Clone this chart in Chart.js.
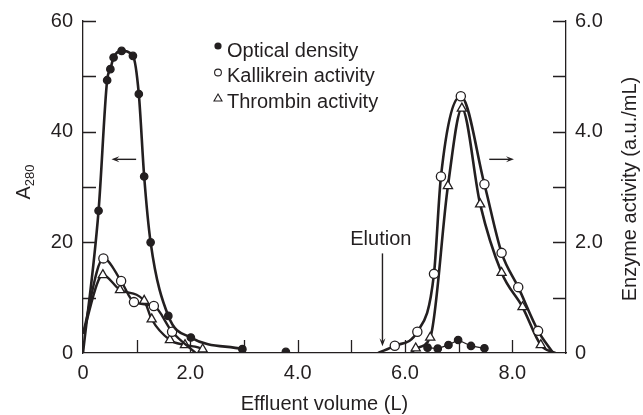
<!DOCTYPE html>
<html lang="en">
<head>
<meta charset="UTF-8">
<title>Kallikrein / thrombin elution profile</title>
<script src="https://cdn.jsdelivr.net/npm/chart.js"></script>
<style>
  body { margin: 0; background: #fff; }
  #chart { display: block; }
</style>
</head>
<body>
<canvas id="chart" width="643" height="415"></canvas>
<script>
// Optical density, A280 (left axis). First peak is a smooth curve
const odPeakVolume = [0, 0.29, 0.45, 0.51, 0.57, 0.72, 0.93, 1.04, 1.14, 1.26, 1.59, 2.01, 2.97];
const odPeakValue  = [0, 25.7, 49.3, 51.3, 53.4, 54.6, 53.7, 46.8, 31.9, 20.0, 6.7, 2.8, 0.7];
// single reading between the two peaks
const odLoneVolume = [3.78];
const odLoneValue  = [0.2];
// small readings under the eluted peak
const odElutedVolume = [6.42, 6.61, 6.81, 6.99, 7.23, 7.48];
const odElutedValue  = [0.96, 0.78, 1.45, 2.35, 1.27, 0.85];

// Kallikrein activity, a.u./mL (right axis)
const kalWashVolume = [0, 0.38, 0.71, 0.95, 1.32, 1.66, 2.1];
const kalWashValue  = [0.35, 1.71, 1.30, 0.92, 0.85, 0.385, 0];
const kalElutionVolume = [5.5, 5.81, 6.23, 6.54, 6.67, 7.04, 7.48, 7.80, 8.11, 8.48, 8.76];
const kalElutionValue  = [0, 0.13, 0.385, 1.43, 3.19, 4.64, 3.05, 1.81, 1.19, 0.40, 0];

// Thrombin activity, a.u./mL (right axis)
const thrWashVolume = [0, 0.37, 0.69, 1.14, 1.28, 1.62, 1.90, 2.23, 2.3];
const thrWashValue  = [0.35, 1.41, 1.14, 0.945, 0.61, 0.235, 0.145, 0.067, 0];
const thrElutionVolume = [6.12, 6.20, 6.47, 6.80, 7.06, 7.40, 7.80, 8.19, 8.53, 8.80];
const thrElutionValue  = [0, 0.085, 0.28, 3.02, 4.42, 2.69, 1.45, 0.83, 0.145, 0];

// tick labels
const xLabelValues = [0, 2, 4, 6, 8];
const xLabelTexts  = ['0', '2.0', '4.0', '6.0', '8.0'];
const yLabelValues = [0, 20, 40, 60];
const yLabelTexts  = ['0', '20', '40', '60'];
const y2LabelValues = [0, 2, 4, 6];
const y2LabelTexts  = ['0', '2.0', '4.0', '6.0'];

const legendNames = ['Optical density', 'Kallikrein activity', 'Thrombin activity'];

const ink = '#231f20';
const fontFamily = "'Liberation Sans', Arial, Helvetica, sans-serif";

function toPoints(xs, ys) {
    return xs.map((x, i) => ({ x: x, y: ys[i] }));
}

// curve ends (on an axis) carry no marker
function markerSize(r) {
    return ctx => (ctx.raw && (ctx.raw.x === 0 || ctx.raw.y === 0)) ? 0 : r;
}

function labelFor(values, texts) {
    return v => {
        const i = values.indexOf(v);
        return i >= 0 ? texts[i] : '';
    };
}

function series(xs, ys, axis, style, fill, radius, width, smooth) {
    return {
        data: toPoints(xs, ys),
        yAxisID: axis,
        borderColor: ink,
        borderWidth: width,
        pointStyle: style,
        pointBackgroundColor: fill,
        pointBorderColor: ink,
        pointBorderWidth: 1.3,
        pointRadius: markerSize(radius),
        showLine: width > 0,
        cubicInterpolationMode: smooth ? 'monotone' : 'default',
        tension: 0
    };
}

function arrow(ctx, x1, y1, x2, y2) {
    const a = Math.atan2(y2 - y1, x2 - x1);
    const head = 8;
    ctx.beginPath();
    ctx.moveTo(x1, y1);
    ctx.lineTo(x2 - Math.cos(a) * head * 0.6, y2 - Math.sin(a) * head * 0.6);
    ctx.stroke();
    ctx.beginPath();
    ctx.moveTo(x2, y2);
    ctx.lineTo(x2 - Math.cos(a) * head - Math.sin(a) * 3, y2 - Math.sin(a) * head + Math.cos(a) * 3);
    ctx.lineTo(x2 - Math.cos(a) * head * 0.6, y2 - Math.sin(a) * head * 0.6);
    ctx.lineTo(x2 - Math.cos(a) * head + Math.sin(a) * 3, y2 - Math.sin(a) * head - Math.cos(a) * 3);
    ctx.closePath();
    ctx.fill();
}

const decor = {
    id: 'decor',
    afterDraw(chart) {
        const ctx = chart.ctx;
        const area = chart.chartArea;
        const x = chart.scales.x, y = chart.scales.y, y2 = chart.scales.y2;
        const tick = 13;
        ctx.save();
        ctx.strokeStyle = ink;
        ctx.fillStyle = ink;
        ctx.lineWidth = 1.3;

        // ticks pointing into the plot
        ctx.beginPath();
        y.ticks.forEach(t => {
            if (t.value === y.min) return;
            const p = Math.round(y.getPixelForValue(t.value)) + 0.5;
            ctx.moveTo(area.left, p); ctx.lineTo(area.left + tick, p);
        });
        y2.ticks.forEach(t => {
            if (t.value === y2.min) return;
            const p = Math.round(y2.getPixelForValue(t.value)) + 0.5;
            ctx.moveTo(area.right - tick, p); ctx.lineTo(area.right, p);
        });
        x.ticks.forEach(t => {
            if (t.value === x.min || t.value === x.max) return;
            const p = Math.round(x.getPixelForValue(t.value)) + 0.5;
            ctx.moveTo(p, area.bottom); ctx.lineTo(p, area.bottom - tick);
        });
        ctx.stroke();

        // axis titles
        ctx.font = '20px ' + fontFamily;
        ctx.textAlign = 'center';
        ctx.textBaseline = 'alphabetic';
        ctx.fillText('Effluent volume (L)', (area.left + area.right) / 2, 410);

        ctx.save();
        ctx.translate(630, (area.top + area.bottom) / 2 + 2);
        ctx.rotate(-Math.PI / 2);
        ctx.textBaseline = 'middle';
        ctx.fillText('Enzyme activity (a.u./mL)', 0, 0);
        ctx.restore();

        ctx.save();
        ctx.translate(23, 182);
        ctx.rotate(-Math.PI / 2);
        ctx.textAlign = 'left';
        ctx.font = '20px ' + fontFamily;
        const wA = ctx.measureText('A').width;
        ctx.font = '13px ' + fontFamily;
        const wSub = ctx.measureText('280').width;
        const start = -(wA + wSub) / 2;
        ctx.font = '20px ' + fontFamily;
        ctx.fillText('A', start, 7);
        ctx.font = '13px ' + fontFamily;
        ctx.fillText('280', start + wA, 11);
        ctx.restore();

        // legend
        const lx = area.left + 135, ly = area.top + 25;
        ctx.font = '20px ' + fontFamily;
        ctx.textAlign = 'left';
        legendNames.forEach((name, i) => {
            ctx.fillText(name, lx + 9, ly + 11 + i * 25.3);
        });
        ctx.beginPath();
        ctx.arc(lx, ly, 3.6, 0, Math.PI * 2);
        ctx.fill();
        ctx.lineWidth = 1.1;
        ctx.beginPath();
        ctx.arc(lx, ly + 26.5, 3.4, 0, Math.PI * 2);
        ctx.stroke();
        ctx.beginPath();
        ctx.moveTo(lx, ly + 48);
        ctx.lineTo(lx + 4, ly + 55);
        ctx.lineTo(lx - 4, ly + 55);
        ctx.closePath();
        ctx.stroke();

        // direction arrows and elution mark
        ctx.lineWidth = 1.4;
        arrow(ctx, x.getPixelForValue(0.99), y.getPixelForValue(35), x.getPixelForValue(0.53), y.getPixelForValue(35));
        arrow(ctx, x.getPixelForValue(7.57), y2.getPixelForValue(3.5), x.getPixelForValue(8.03), y2.getPixelForValue(3.5));
        arrow(ctx, x.getPixelForValue(5.58), y2.getPixelForValue(1.80), x.getPixelForValue(5.58), y2.getPixelForValue(0.12));
        ctx.textAlign = 'center';
        ctx.textBaseline = 'middle';
        ctx.fillText('Elution', x.getPixelForValue(5.55), y2.getPixelForValue(2.05));
        ctx.restore();
    }
};

const ctx = document.getElementById('chart').getContext('2d');
new Chart(ctx, {
    type: 'scatter',
    data: {
        datasets: [
            series(odPeakVolume, odPeakValue, 'y', 'circle', ink, 3.7, 2.6, true),
            series(odLoneVolume, odLoneValue, 'y', 'circle', ink, 3.7, 0, false),
            series(odElutedVolume, odElutedValue, 'y', 'circle', ink, 3.7, 1.3, false),
            series(kalWashVolume, kalWashValue, 'y2', 'circle', '#fff', 4.6, 2.4, true),
            series(thrWashVolume, thrWashValue, 'y2', 'triangle', '#fff', 5.3, 2.4, true),
            series(kalElutionVolume, kalElutionValue, 'y2', 'circle', '#fff', 4.6, 2.6, true),
            series(thrElutionVolume, thrElutionValue, 'y2', 'triangle', '#fff', 5.3, 2.6, true)
        ]
    },
    options: {
        responsive: false,
        animation: false,
        events: [],
        layout: { padding: { top: 21, left: 0, right: 0, bottom: 0 } },
        plugins: { legend: { display: false }, tooltip: { enabled: false } },
        scales: {
            x: {
                type: 'linear',
                min: 0, max: 9,
                grid: { display: false, drawTicks: false },
                border: { color: ink, width: 1.3 },
                ticks: {
                    stepSize: 1, autoSkip: false, maxRotation: 0, padding: 8,
                    color: ink, font: { size: 20, family: fontFamily },
                    callback: labelFor(xLabelValues, xLabelTexts)
                },
                afterFit: s => { s.height = 62; s.paddingLeft = 0; s.paddingRight = 0; }
            },
            y: {
                position: 'left',
                min: 0, max: 60,
                grid: { display: false, drawTicks: false },
                border: { color: ink, width: 1.3 },
                ticks: {
                    stepSize: 10, autoSkip: false, padding: 10,
                    color: ink, font: { size: 20, family: fontFamily },
                    callback: labelFor(yLabelValues, yLabelTexts)
                },
                afterFit: s => { s.width = 83; s.paddingTop = 0; s.paddingBottom = 0; }
            },
            y2: {
                position: 'right',
                min: 0, max: 6,
                grid: { display: false, drawTicks: false },
                border: { color: ink, width: 1.3 },
                ticks: {
                    stepSize: 1, autoSkip: false, padding: 9,
                    color: ink, font: { size: 20, family: fontFamily },
                    callback: labelFor(y2LabelValues, y2LabelTexts)
                },
                afterFit: s => { s.width = 77; s.paddingTop = 0; s.paddingBottom = 0; }
            }
        }
    },
    plugins: [decor]
});
</script>
</body>
</html>
